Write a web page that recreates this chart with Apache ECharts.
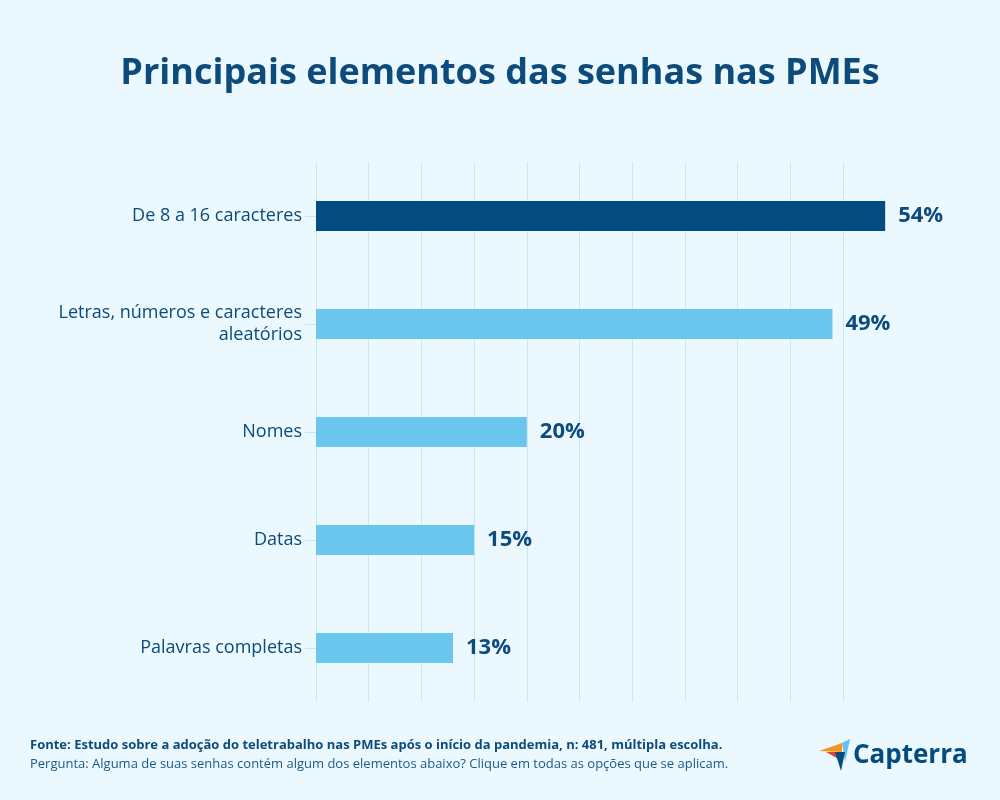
<!DOCTYPE html>
<html><head><meta charset="utf-8">
<script src="https://cdn.jsdelivr.net/npm/echarts@6/dist/echarts.min.js"></script>
<style>html,body{margin:0;padding:0;background:#ebf8fd;}#c{width:1000px;height:800px;}</style>
</head><body><div id="c"></div>
<script>
const categories = ['De 8 a 16 caracteres', 'Letras, números e caracteres\naleatórios', 'Nomes', 'Datas', 'Palavras completas'];
const values = [54, 49, 20, 15, 13];
const barColors = ['#044c7f', '#6bc6ee', '#6bc6ee', '#6bc6ee', '#6bc6ee'];
const titleText = 'Principais elementos das senhas nas PMEs';
const sourceText = 'Fonte: Estudo sobre a adoção do teletrabalho nas PMEs após o início da pandemia, n: 481, múltipla escolha.';
const questionText = 'Pergunta: Alguma de suas senhas contém algum dos elementos abaixo? Clique em todas as opções que se aplicam.';

const dark = '#0b4a7a';
const font = '"Open Sans", sans-serif';
const chart = echarts.init(document.getElementById('c'));
chart.setOption({
  backgroundColor: '#ebf8fd',
  animation: false,
  title: {
    text: titleText, left: 'center', top: 51,
    textStyle: { fontFamily: font, fontSize: 36, fontWeight: 'bold', color: '#0c4b7c' }
  },
  grid: { left: 316, right: 157, top: 162, bottom: 98 },
  xAxis: {
    type: 'value', min: 0, max: 50, interval: 5,
    axisLabel: { show: false }, axisLine: { show: false }, axisTick: { show: false },
    splitLine: { lineStyle: { color: '#c6e9f6', width: 1 } }
  },
  yAxis: {
    type: 'category', data: categories, inverse: true,
    axisLine: { show: false },
    axisTick: { show: true, alignWithLabel: true, length: 11, lineStyle: { color: '#bfe6f5' } },
    axisLabel: { fontFamily: font, fontSize: 18, color: dark, margin: 14, lineHeight: 22, align: 'right' }
  },
  series: [{
    type: 'bar', barWidth: 30, clip: false,
    data: values.map((v, i) => ({ value: v, itemStyle: { color: barColors[i] } })),
    label: {
      show: true, position: 'right', distance: 13, formatter: '{c}%',
      fontFamily: font, fontSize: 22, fontWeight: 'bold', color: '#0c4b7c'
    }
  }],
  graphic: [
    { type: 'text', left: 30, top: 739, style: { text: sourceText, fontFamily: font, fontSize: 13, fontWeight: 'bold', fill: '#0c4b7c' } },
    { type: 'text', left: 30, top: 758, style: { text: questionText, fontFamily: font, fontSize: 13, fill: '#1a5a8a' } },
    { type: 'polygon', shape: { points: [[819, 751], [842, 743], [842, 752]] }, style: { fill: '#f7941e' } },
    { type: 'polygon', shape: { points: [[826, 752], [842, 752], [842, 761]] }, style: { fill: '#e5413b' } },
    { type: 'polygon', shape: { points: [[842, 743], [850, 739], [845, 762]] }, style: { fill: '#67c1ec' } },
    { type: 'polygon', shape: { points: [[835, 752], [845, 752], [841, 771]] }, style: { fill: '#044c7f' } },
    { type: 'text', x: 853, y: 756, style: { text: 'Capterra', fontFamily: font, fontSize: 26, fontWeight: 'bold', fill: '#044c7f', verticalAlign: 'middle' } }
  ]
});
</script></body></html>
